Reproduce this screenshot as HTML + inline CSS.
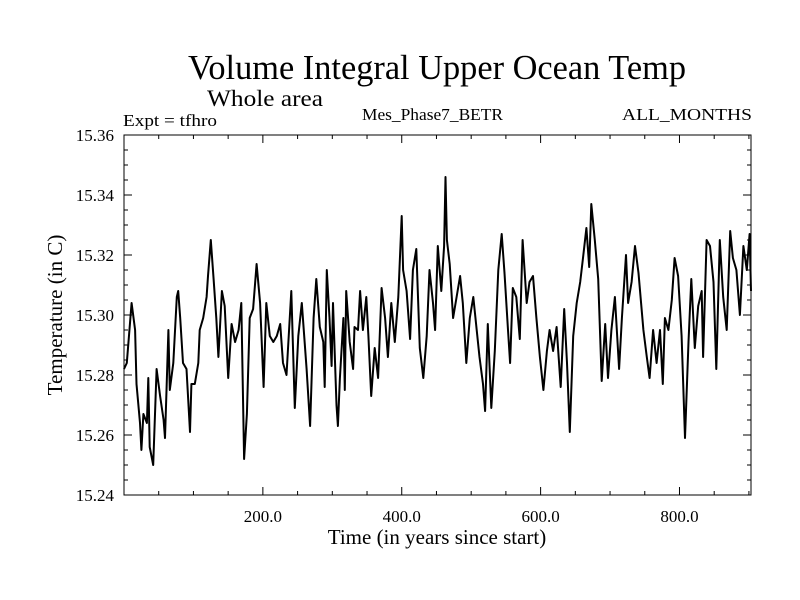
<!DOCTYPE html>
<html><head><meta charset="utf-8"><style>
html,body{margin:0;padding:0;background:#fff;}
svg{display:block;font-family:"Liberation Serif",serif;}
</style></head><body>
<svg id="chart" width="800" height="600" viewBox="0 0 800 600" xmlns="http://www.w3.org/2000/svg">
<rect width="800" height="600" fill="#fff"/>
<text x="188" y="79" font-size="35" textLength="498" lengthAdjust="spacingAndGlyphs">Volume Integral Upper Ocean Temp</text>
<text x="207" y="106" font-size="23" textLength="116" lengthAdjust="spacingAndGlyphs">Whole area</text>
<text x="123" y="126" font-size="17" textLength="94" lengthAdjust="spacingAndGlyphs">Expt = tfhro</text>
<text x="362" y="120" font-size="17" textLength="141" lengthAdjust="spacingAndGlyphs">Mes_Phase7_BETR</text>
<text x="622" y="120" font-size="17" textLength="130" lengthAdjust="spacingAndGlyphs">ALL_MONTHS</text>
<text x="437" y="544" font-size="21" text-anchor="middle">Time (in years since start)</text>
<text x="0" y="0" font-size="21" text-anchor="middle" transform="translate(62,315) rotate(-90)">Temperature (in C)</text>
<g id="axes"></g>
<g id="plot"></g>
</svg>
<script>
const years=[0,4,11,16,18,23,25,28,33,35,37,42,47,52,57,59,64,66,71,76,78,81,85,90,95,97,102,107,109,114,119,121,125,129,133,136,141,145,150,155,160,165,169,173,177,181,186,191,196,201,205,210,215,220,225,229,234,241,246,251,256,263,268,273,277,
282,287,289,292,296,299,301,306,308,311,316,318,320,325,330,332,337,340,344,349,352,356,361,366,371,376,380,385,390,395,400,402,407,412,416,421,426,431,436,440,445,448,452,457,461,463,465,469,474,479,484,488,493,498,503,508,512,517,520,524,529,534,539,544,548,553,556,560,565,570,574,580,584,589,594,
599,604,609,613,618,623,629,634,638,642,647,652,657,661,666,670,673,678,683,688,693,697,702,707,713,717,723,726,731,736,741,748,753,757,762,767,772,776,779,784,789,793,798,803,808,813,817,822,827,832,834,839,844,849,853,858,863,868,873,877,882,887,892,897,901,903];
const temps=[15.282,15.284,15.304,15.295,15.277,15.264,15.255,15.267,15.264,15.279,15.256,15.250,15.282,15.273,15.265,15.259,15.295,15.275,15.284,15.306,15.308,15.299,15.284,15.282,15.261,15.277,15.277,15.284,15.295,15.299,15.306,15.313,15.325,15.312,15.299,15.286,15.308,15.303,15.279,15.297,15.291,15.295,15.304,15.252,15.267,15.299,15.302,15.317,15.304,15.276,15.304,15.293,15.291,15.293,15.297,15.284,15.280,15.308,15.269,15.293,15.304,15.282,15.263,15.299,15.312,
15.296,15.291,15.276,15.315,15.299,15.283,15.304,15.270,15.263,15.279,15.299,15.275,15.308,15.291,15.282,15.296,15.295,15.308,15.295,15.306,15.293,15.273,15.289,15.279,15.309,15.299,15.286,15.304,15.291,15.306,15.333,15.315,15.308,15.292,15.315,15.322,15.289,15.279,15.293,15.315,15.304,15.295,15.323,15.308,15.323,15.346,15.325,15.317,15.299,15.306,15.313,15.304,15.284,15.299,15.306,15.295,15.286,15.277,15.268,15.297,15.269,15.288,15.315,15.327,15.314,15.295,15.284,15.309,15.306,15.292,15.325,15.304,15.311,15.313,15.299,
15.286,15.275,15.288,15.295,15.288,15.296,15.276,15.302,15.284,15.261,15.293,15.304,15.311,15.319,15.329,15.316,15.337,15.325,15.312,15.278,15.297,15.279,15.295,15.306,15.282,15.299,15.320,15.304,15.311,15.323,15.314,15.295,15.286,15.279,15.295,15.284,15.295,15.277,15.299,15.295,15.305,15.319,15.313,15.293,15.259,15.291,15.312,15.289,15.303,15.308,15.286,15.325,15.323,15.311,15.282,15.325,15.306,15.295,15.328,15.319,15.315,15.300,15.323,15.315,15.327,15.308];
const xMajor=[200,400,600,800];
const xMajorLabels=["200.0","400.0","600.0","800.0"];
const yMajor=[15.24,15.26,15.28,15.30,15.32,15.34,15.36];
const yMajorLabels=["15.24","15.26","15.28","15.30","15.32","15.34","15.36"];
const xMin=0,xMax=903,yMin=15.24,yMax=15.36;
const L=124,R=751,T=135,B=495;
const NS="http://www.w3.org/2000/svg";
function xs(v){return L+(v-xMin)/(xMax-xMin)*(R-L);}
function ys(v){return B-(v-yMin)/(yMax-yMin)*(B-T);}
function mk(tag,attrs,parent){const e=document.createElementNS(NS,tag);for(const k in attrs)e.setAttribute(k,attrs[k]);parent.appendChild(e);return e;}
const axes=document.getElementById('axes'),plot=document.getElementById('plot');
const frame=mk('rect',{x:L,y:T,width:R-L,height:B-T,fill:'none',stroke:'#000','stroke-width':1},axes);


// x ticks
for(let v=50;v<xMax;v+=50){
  const major=v%200===0,len=major?8:4,x=xs(v);
  const t1=mk('line',{x1:x,x2:x,y1:B,y2:B-len,stroke:'#000'},axes);
  
  
  const t2=mk('line',{x1:x,x2:x,y1:T,y2:T+len,stroke:'#000'},axes);
  
  
}
xMajor.forEach((v,i)=>{
  const t=mk('text',{x:xs(v),y:522,'font-size':17,'text-anchor':'middle'},axes);
  t.textContent=xMajorLabels[i];
  
  
});
// y ticks
for(let i=0;i<=24;i++){
  const v=yMin+i*0.005,major=i%4===0,len=major?8:4,y=ys(v);
  const t1=mk('line',{x1:L,x2:L+len,y1:y,y2:y,stroke:'#000'},axes);
  
  
  const t2=mk('line',{x1:R,x2:R-len,y1:y,y2:y,stroke:'#000'},axes);
  
  
}
yMajor.forEach((v,i)=>{
  const t=mk('text',{x:114,y:ys(v)+6,'font-size':17,'text-anchor':'end'},axes);
  t.textContent=yMajorLabels[i];
  
  
});
const pts=years.map((yr,i)=>xs(yr).toFixed(1)+','+ys(temps[i]).toFixed(1)).join(' ');
const line=mk('polyline',{points:pts,fill:'none',stroke:'#000','stroke-width':2,'stroke-linejoin':'round'},plot);


</script>
</body></html>
